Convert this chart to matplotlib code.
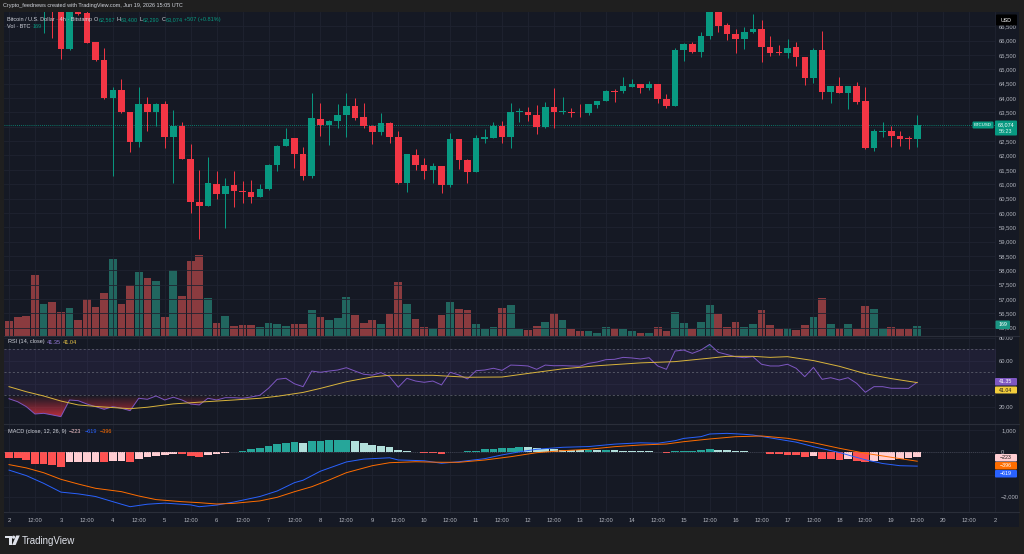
import numpy as np
import matplotlib
matplotlib.use('Agg')
import matplotlib.pyplot as plt
from matplotlib.colors import to_rgb
from matplotlib.patches import Rectangle, Polygon, Circle, FancyBboxPatch
from matplotlib.path import Path

plt.rcParams['font.family'] = ['Liberation Sans', 'DejaVu Sans']

# ---- data: BTCUSD 4h candles, Jun 2 00:00 -> Jun 19 12:00 ----
opens = [68100, 67850, 67600, 67450, 67100, 67220, 67060, 65709, 67150, 66953,
         65953, 65326, 64002, 64281, 63514, 62458, 63782, 63514, 63782, 62654,
         63037, 61876, 60389, 60249, 61016, 60647, 60960, 60762, 60737, 60563,
         60831, 61668, 62340, 62598, 62051, 61285, 63281, 63071, 63211, 63410,
         63723, 63330, 63037, 62817, 63141, 62643, 61051, 62016, 61668, 61483,
         61633, 60960, 62573, 61842, 61434, 62584, 62619, 63026, 62654, 63525,
         63525, 63410, 62981, 63678, 63525, 63525, 63490, 63469, 63768, 63897,
         64256, 64235, 64395, 64490, 64350, 64490, 63967, 63734, 65674, 65873,
         65594, 66162, 67100, 66556, 66232, 66068, 66291, 66395, 65779, 65585,
         65565, 65768, 65430, 64709, 65674, 64211, 64420, 64176, 64420, 63887,
         62270, 62828, 62863, 62678, 62590, 62567]
highs = [68300, 68000, 67750, 67600, 67350, 67300, 67120, 67300, 67250, 67050,
         65970, 65733, 64395, 64653, 63530, 64395, 64047, 63817, 63897, 63584,
         63176, 62399, 61493, 61957, 61469, 61204, 61469, 61110, 61134, 61006,
         61700, 62360, 62946, 62610, 62305, 64166, 63817, 63230, 63793, 64186,
         63991, 63817, 63060, 63469, 63176, 62852, 62060, 62214, 61911, 61727,
         61650, 62793, 62590, 61870, 62713, 62911, 63176, 63200, 63817, 63643,
         63699, 63758, 63873, 64340, 64047, 63643, 63793, 63800, 63910, 64280,
         64305, 64723, 64653, 64500, 64605, 64500, 64141, 65733, 65929, 65963,
         66312, 67250, 67200, 66625, 66395, 66486, 66929, 66719, 66162, 65848,
         66047, 65963, 65440, 65733, 66347, 64430, 64723, 64430, 64570, 64375,
         62911, 63176, 63026, 62852, 62688, 63400]
lows = [67700, 67500, 67350, 67080, 66256, 66082, 65350, 65680, 66880, 65920,
        65300, 63977, 61295, 63469, 62120, 62305, 62863, 63026, 62249, 61051,
        61860, 60006, 59100, 60230, 60483, 59483, 60194, 60354, 60354, 60540,
        60796, 61469, 62320, 61553, 61145, 61204, 62678, 62364, 62946, 62633,
        63235, 62967, 62399, 62713, 62444, 60995, 60716, 61493, 61180, 61030,
        60682, 60911, 61518, 61051, 61420, 62444, 62600, 62444, 62270, 63176,
        63211, 62748, 62960, 62967, 63444, 63330, 63350, 63410, 63664, 63880,
        63873, 64186, 64380, 64186, 64281, 63817, 63643, 63720, 65301, 65559,
        65441, 66047, 66291, 66023, 65580, 65719, 66280, 65266, 65476, 65500,
        65395, 65127, 64465, 64524, 63977, 63838, 64160, 63619, 63793, 62214,
        62166, 62654, 62305, 62329, 62235, 62290]
closes = [67850, 67600, 67450, 67150, 67220, 67060, 65709, 67150, 66929, 65929,
          65326, 64002, 64281, 63514, 62458, 63782, 63514, 63782, 62633, 63037,
          61876, 60389, 60249, 61041, 60657, 60936, 60762, 60727, 60563, 60842,
          61668, 62340, 62573, 62040, 61285, 63305, 63050, 63211, 63420, 63723,
          63316, 63037, 62817, 63131, 62654, 61051, 62040, 61668, 61469, 61622,
          60960, 62573, 61842, 61434, 62598, 62633, 63026, 62654, 63525, 63549,
          63410, 62981, 63678, 63525, 63545, 63490, 63469, 63782, 63897, 64256,
          64221, 64409, 64490, 64360, 64490, 63967, 63734, 65674, 65873, 65594,
          66172, 67100, 66521, 66232, 66068, 66291, 66395, 65779, 65570, 65565,
          65754, 65430, 64709, 65674, 64221, 64420, 64176, 64420, 63873, 62270,
          62842, 62863, 62668, 62590, 62567, 63074]
volumes = [254, 316, 338, 1026, 536, 570, 406, 468, 270, 625,
           485, 722, 1301, 541, 857, 1082, 975, 930, 316, 1110,
           671, 1273, 1369, 637, 225, 333, 169, 186, 181, 147,
           225, 203, 164, 208, 208, 444, 321, 275, 299, 664,
           360, 220, 270, 208, 377, 913, 536, 292, 157, 135,
           355, 580, 456, 439, 203, 113, 147, 468, 524, 123,
           101, 164, 237, 389, 275, 123, 79, 90, 51, 147,
           135, 118, 85, 51, 56, 147, 90, 406, 220, 118,
           237, 529, 367, 147, 237, 152, 208, 434, 181, 113,
           135, 96, 186, 321, 637, 208, 135, 208, 123, 507,
           451, 135, 152, 113, 123, 169]

# RSI (14) and its moving average
rsi = [27.0, 24.4, 20.1, 13.7, 14.3, 12.9, 11.4, 25.9, 25.3, 22.4,
       20.1, 17.8, 20.1, 18.7, 16.6, 27.4, 26.5, 29.4, 25.9, 28.3,
       25.9, 22.4, 21.6, 27.4, 25.9, 27.9, 27.9, 27.4, 28.5, 30.0,
       36.1, 43.9, 44.8, 40.0, 37.5, 51.1, 50.0, 51.1, 52.0, 54.0,
       51.1, 48.3, 47.5, 49.7, 46.2, 37.0, 44.8, 42.4, 41.3, 42.4,
       39.0, 50.0, 47.7, 44.2, 51.4, 52.0, 53.5, 51.7, 56.3, 56.0,
       55.5, 52.6, 56.3, 55.7, 55.8, 55.5, 55.3, 57.8, 59.0, 61.0,
       61.3, 63.0, 62.5, 61.6, 62.7, 55.5, 52.6, 68.5, 69.4, 66.5,
       69.4, 74.3, 67.4, 65.5, 63.5, 62.7, 63.6, 57.0, 55.5, 55.5,
       57.0, 53.5, 46.2, 54.3, 43.9, 45.3, 43.3, 45.3, 40.4, 32.6,
       37.5, 37.5, 36.1, 36.1, 36.0, 41.35]
rsi_ma_idx = [0, 2, 4, 6, 8, 10, 14, 16, 19, 23, 26, 29, 31, 34, 36, 39, 42, 44,
              49, 53, 57, 60, 64, 68, 73, 77, 81, 83, 86, 88, 90, 93, 96, 99, 102, 105]
rsi_ma = [37.5, 33.1, 29.4, 25.0, 21.6, 20.3, 18.3, 19.6, 22.5, 24.5, 25.9, 27.4,
          29.1, 32.5, 36.0, 41.8, 46.0, 47.4, 47.4, 45.7, 45.9, 49.0, 53.0, 55.7,
          58.2, 59.3, 62.3, 63.9, 63.9, 63.0, 63.6, 60.2, 55.2, 48.8, 44.5, 41.04]

# MACD (12, 26, 9)
macd_idx = [0, 2, 4, 6, 8, 10, 13, 14, 16, 18, 21, 22, 24, 26, 29, 31, 33, 34, 36,
            39, 41, 44, 45, 48, 50, 52, 55, 57, 59, 61, 64, 67, 70, 73, 75, 77, 78,
            80, 81, 83, 85, 86, 89, 91, 93, 96, 97, 99, 101, 103, 105]
macd_line = [-800, -1050, -1400, -1800, -1880, -2000, -2350, -2463, -2350, -2300,
             -2380, -2463, -2390, -2250, -2000, -1750, -1370, -1260, -850, -430,
             -300, -240, -340, -375, -490, -420, -280, -110, 30, 145, 236, 270,
             380, 440, 420, 536, 640, 720, 840, 870, 827, 795, 600, 470, 264, 0,
             -114, -330, -500, -600, -619]
signal_idx = [0, 2, 4, 6, 8, 10, 13, 15, 17, 20, 22, 24, 26, 29, 31, 33, 35, 37,
              39, 42, 44, 47, 50, 52, 55, 58, 61, 64, 67, 70, 73, 76, 78, 81, 84,
              87, 90, 93, 96, 99, 102, 105]
signal_line = [-550, -700, -918, -1218, -1432, -1627, -1780, -1977, -2140, -2236,
               -2280, -2341, -2310, -2200, -2036, -1782, -1555, -1250, -918, -600,
               -464, -420, -445, -445, -341, -191, -9, 82, 145, 264, 341, 386, 491,
               614, 718, 750, 645, 445, 191, -36, -218, -396]
hist = [-236, -264, -341, -509, -536, -568, -645, -445, -420, -415,
        -412, -445, -386, -380, -418, -309, -218, -145, -114, -68,
        -82, -159, -191, -127, -82, -20, 36, 82, 145, 205,
        295, 386, 450, 470, 418, 530, 540, 548, 552, 556,
        510, 440, 360, 300, 236, 100, 70, 30, -15, -35,
        -70, 20, 35, 55, 90, 140, 165, 185, 215, 245,
        230, 190, 170, 150, 130, 115, 105, 110, 100, 108,
        95, 90, 85, 75, 60, 40, -10, 50, 70, 80,
        105, 170, 130, 105, 90, 75, 40, 10, -70, -90,
        -110, -130, -210, -170, -300, -310, -320, -300, -380, -420,
        -380, -350, -320, -290, -260, -223]

time_labels = ['2', '12:00', '3', '12:00', '4', '12:00', '5', '12:00', '6', '12:00',
               '7', '12:00', '8', '12:00', '9', '12:00', '10', '12:00', '11', '12:00',
               '12', '12:00', '13', '12:00', '14', '12:00', '15', '12:00', '16', '12:00',
               '17', '12:00', '18', '12:00', '19', '12:00', '20', '12:00', '2']
price_ticks = list(range(56000, 67000, 500))

# ---- style ----
BG = '#151924'
FRAME = '#1f1f1f'
GRID = '#1f2330'
TXT = '#d1d4dc'
AX_TXT = '#b2b5be'
UP, DN = '#089981', '#f23645'
W, H = 1024, 554
FS = 4.0

n = len(closes)
xi = np.arange(n)
o, hi_, lo_, c = (np.array(v, float) for v in (opens, highs, lows, closes))
up = c >= o
cols = np.where(up, UP, DN)

fig = plt.figure(figsize=(W / 100, H / 100), dpi=100, facecolor=FRAME)


def px_rect(x0, y0, x1, y1):
    return [x0 / W, 1 - y1 / H, (x1 - x0) / W, (y1 - y0) / H]


bg = fig.add_axes([0, 0, 1, 1], zorder=0)
bg.set_xlim(0, W)
bg.set_ylim(H, 0)
bg.axis('off')
bg.add_patch(Rectangle((4, 12), 1015, 515, color=BG, lw=0))

PX0, PX1 = 4, 995.5
XL = ((PX0 - 9) / 8.65, (PX1 - 9) / 8.65)
tick_pos = np.arange(len(time_labels)) * 3


def style(ax):
    ax.set_facecolor('none')
    for s in ax.spines.values():
        s.set_visible(False)
    ax.set_xlim(*XL)
    ax.set_xticks(tick_pos)
    ax.tick_params(length=0, labelsize=4.2, labelcolor=AX_TXT, pad=2.5,
                   labelleft=False, labelright=True, labelbottom=False)
    ax.yaxis.tick_right()
    ax.grid(color=GRID, lw=0.6)
    ax.set_axisbelow(True)


# ---- main pane: volume + candles ----
axv = fig.add_axes(px_rect(PX0, 12, PX1, 336), zorder=1)
axv.bar(xi, volumes, width=0.9, color=np.where(up, '#21665f', '#8a3b3f'), lw=0)
axv.set_xlim(*XL)
axv.set_ylim(0, 5476)
axv.axis('off')

ax = fig.add_axes(px_rect(PX0, 12, PX1, 336), zorder=2)
style(ax)
ax.set_ylim(55710, 66998)
ax.set_yticks(price_ticks)
# labels covered by the last-price tag are not shown
ax.set_yticklabels(['' if abs(v - closes[-1]) < 250 else f'{v:,}' for v in price_ticks])
ax.vlines(xi, lo_, hi_, colors=cols, lw=0.7, zorder=2)
ax.bar(xi, np.maximum(np.abs(c - o), 25), bottom=np.minimum(o, c), width=0.76,
       color=cols, lw=0, zorder=3)
ax.axhline(c[-1], color=UP, lw=0.6, ls=(0, (1, 1.5)), zorder=1)

# ---- RSI pane ----
ar = fig.add_axes(px_rect(PX0, 336, PX1, 424), zorder=2)
style(ar)
ar.set_ylim(5.0, 81.6)
ar.set_yticks([20, 40, 60, 80])
ar.set_yticklabels(['20.00', '', '60.00', '80.00'])
ar.axhspan(30, 70, color='#7e57c2', alpha=0.1, lw=0)
for lv in (70, 50, 30):
    ar.axhline(lv, color='#787b86', lw=0.5, ls=(0, (3, 3)), alpha=0.8)

rsi_a = np.array(rsi)


def grad_fill(axis, x, y, level, below, color, amax):
    if below:
        pc = axis.fill_between(x, y, level, where=y < level, interpolate=True, color='none', lw=0)
        lo, top = y.min(), level
        alpha = np.linspace(amax, 0, 64)
    else:
        pc = axis.fill_between(x, y, level, where=y > level, interpolate=True, color='none', lw=0)
        lo, top = level, y.max()
        alpha = np.linspace(0, amax, 64)
    paths = pc.get_paths()
    if not paths:
        return
    img = np.zeros((64, 1, 4))
    img[..., :3] = to_rgb(color)
    img[:, 0, 3] = alpha
    im = axis.imshow(img, extent=[x[0], x[-1], lo, top], origin='lower', aspect='auto',
                     interpolation='bilinear', zorder=1.5)
    im.set_clip_path(Path.make_compound_path(*paths), transform=axis.transData)


grad_fill(ar, xi, rsi_a, 30, True, DN, 0.75)
grad_fill(ar, xi, rsi_a, 70, False, UP, 0.6)
ar.set_xlim(*XL)
ar.set_ylim(5.0, 81.6)
ar.plot(xi, rsi_a, color='#7e57c2', lw=0.7, zorder=3)
ar.plot(rsi_ma_idx, rsi_ma, color='#d9b43c', lw=0.7, zorder=3)

# ---- MACD pane ----
am = fig.add_axes(px_rect(PX0, 424, PX1, 512), zorder=2)
style(am)
am.set_ylim(-2704, 1295)
am.set_yticks([1000, 0, -1000, -2000])
am.set_yticklabels(['1,000', '0', '', '\u22122,000'])
am.tick_params(labelbottom=True, pad=4)
am.set_xticklabels(time_labels)
hcols = []
prev = None
for hv in hist:
    if hv >= 0:
        hcols.append('#26a69a' if prev is None or hv > prev else '#b2dfdb')
    else:
        hcols.append('#ff5252' if prev is None or hv < prev else '#ffcdd2')
    prev = hv
am.bar(xi, hist, width=0.9, color=hcols, lw=0, zorder=2)
am.axhline(0, color='#787b86', lw=0.5, ls=(0, (1, 2)), alpha=0.7)
am.plot(macd_idx, macd_line, color='#2962ff', lw=0.7, zorder=3)
am.plot(signal_idx, signal_line, color='#ff6d00', lw=0.7, zorder=3)

# ---- overlay: texts, labels, separators ----
ov = fig.add_axes([0, 0, 1, 1], zorder=10)
ov.set_xlim(0, W)
ov.set_ylim(H, 0)
ov.axis('off')
ov.patch.set_alpha(0)
renderer = fig.canvas.get_renderer()


def text_row(x, y, parts):
    # lay pieces left to right, each after the measured end of the previous one
    for s, col, gap in parts:
        t = ov.text(x, y, s, color=col, fontsize=FS, va='center')
        x = t.get_window_extent(renderer=renderer).x1 + gap


for yy in (336, 424, 512):
    ov.plot([4, 1019], [yy, yy], color='#2a2e39', lw=0.8)

ov.text(3, 6, 'Crypto_feednews created with TradingView.com, Jun 19, 2026 15:05 UTC',
        color=TXT, fontsize=FS, va='center')
chg = closes[-1] - closes[-2]
text_row(7, 19.5, [('Bitcoin / U.S. Dollar \u00b7 4h \u00b7 Bitstamp', TXT, 2.0),
                   ('O', TXT, 0.3), (f'{opens[-1]:,}', UP, 1.5),
                   ('H', TXT, 0.3), (f'{highs[-1]:,}', UP, 1.5),
                   ('L', TXT, 0.3), (f'{lows[-1]:,}', UP, 1.5),
                   ('C', TXT, 0.3), (f'{closes[-1]:,}', UP, 1.5),
                   (f'+{chg} (+{chg / closes[-2] * 100:.2f}%)', UP, 0)])
text_row(7, 26.5, [('Vol \u00b7 BTC', TXT, 2.5), (f'{volumes[-1]}', UP, 0)])
text_row(8, 342, [('RSI (14, close)', TXT, 2.5), (f'{rsi[-1]:.2f}', '#9a7ee0', 2.0),
                  (f'{rsi_ma[-1]:.2f}', '#e8c547', 0)])
text_row(8, 431.5, [('MACD (close, 12, 26, 9)', TXT, 2.5),
                    (f'\u2212{abs(hist[-1])}', '#f5c6cb', 3.0),
                    (f'\u2212{abs(macd_line[-1])}', '#2962ff', 3.0),
                    (f'\u2212{abs(signal_line[-1])}', '#ff6d00', 0)])


def tag(x0, y0, x1, y1, fc, s, tc='white', fs=3.8):
    ov.add_patch(FancyBboxPatch((x0, y0), x1 - x0, y1 - y0, boxstyle='round,pad=0,rounding_size=1',
                                fc=fc, ec='none'))
    ov.text((x0 + x1) / 2, (y0 + y1) / 2, s, color=tc, fontsize=fs, ha='center', va='center')


tag(996, 14.5, 1017, 25.5, '#000000', 'USD', fs=3.8)
tag(972.5, 121.5, 993.5, 128.5, UP, 'BTCUSD', fs=3.2)
ov.add_patch(FancyBboxPatch((995, 120.5), 22, 15, boxstyle='round,pad=0,rounding_size=1', fc=UP, ec='none'))
ov.text(1006, 124.5, f'{closes[-1]:,}', color='white', fontsize=3.9, ha='center', va='center')
ov.text(1006, 131.3, '56:23', color='#d8f2ee', fontsize=3.9, ha='center', va='center')
tag(995.5, 320.5, 1010, 329, '#1b9583', f'{volumes[-1]}', fs=3.8)
tag(995, 378, 1017, 385.5, '#7e57c2', f'{rsi[-1]:.2f}')
tag(995, 386.5, 1017, 393.5, '#f2cd3c', f'{rsi_ma[-1]:.2f}', tc='#1a1a1a')
tag(995, 454, 1017, 461.5, '#ffcdd2', f'\u2212{abs(hist[-1])}', tc='#1a1a1a')
tag(995, 462, 1017, 469.5, '#ff6d00', f'\u2212{abs(signal_line[-1])}')
tag(995, 470, 1017, 477.5, '#2962ff', f'\u2212{abs(macd_line[-1])}')

# footer logo
ov.add_patch(Polygon([(5, 535.5), (11.5, 535.5), (11.5, 545), (8.6, 545), (8.6, 538.3), (5, 538.3)],
                     closed=True, fc='#e0e3eb', ec='none'))
ov.add_patch(Circle((13.6, 537.2), 1.6, fc='#e0e3eb', ec='none'))
ov.add_patch(Polygon([(16.2, 535.5), (19.8, 535.5), (15.6, 545), (12.1, 545)], closed=True,
                     fc='#e0e3eb', ec='none'))
ov.text(22, 540.5, 'TradingView', color='#e0e3eb', fontsize=7, va='center')

fig.savefig('out.png', dpi=100, facecolor=FRAME)
